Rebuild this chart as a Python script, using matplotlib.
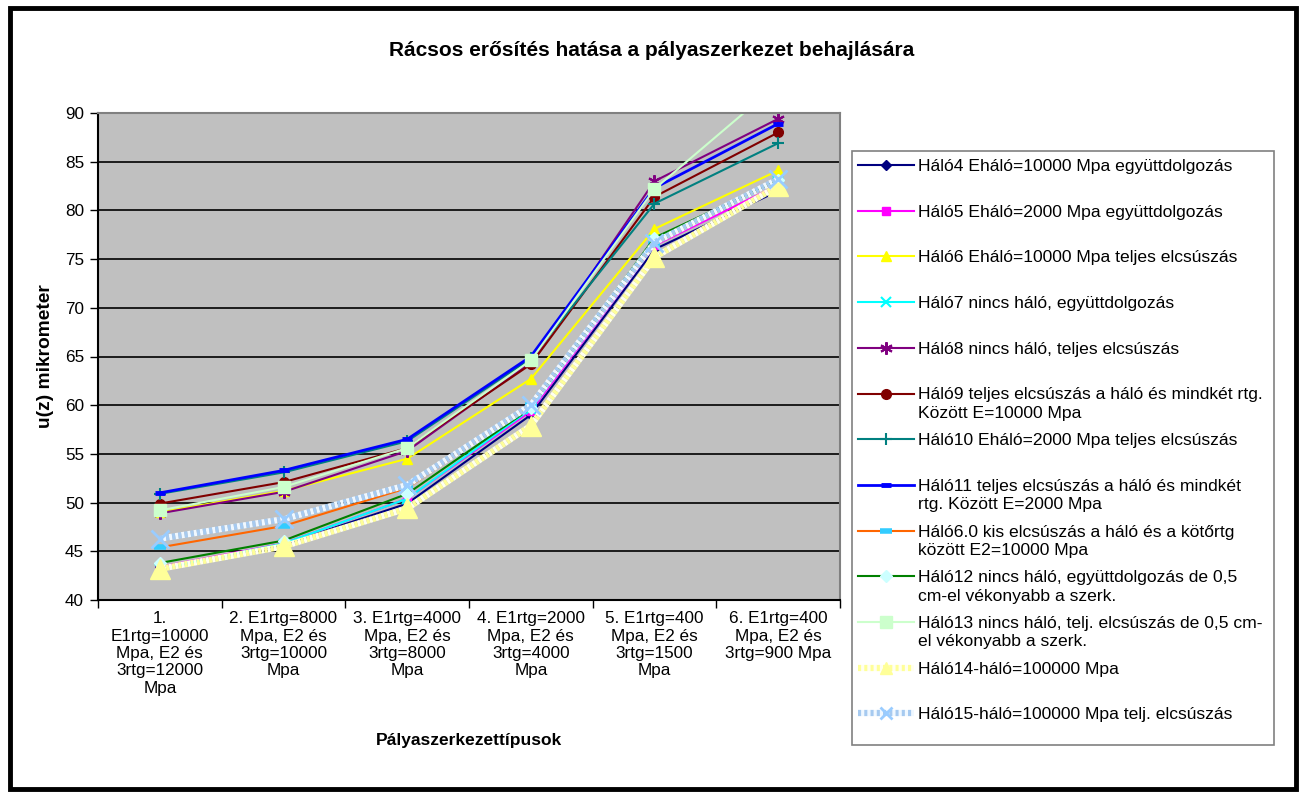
import matplotlib.pyplot as plt
import numpy as np
from matplotlib.lines import Line2D
from matplotlib.patches import Rectangle

plt.rcParams['font.family'] = ['Liberation Sans', 'DejaVu Sans']

# pavement structure types on the x axis
categories = [
    "1.\nE1rtg=10000\nMpa, E2 és\n3rtg=12000\nMpa",
    "2. E1rtg=8000\nMpa, E2 és\n3rtg=10000\nMpa",
    "3. E1rtg=4000\nMpa, E2 és\n3rtg=8000\nMpa",
    "4. E1rtg=2000\nMpa, E2 és\n3rtg=4000\nMpa",
    "5. E1rtg=400\nMpa, E2 és\n3rtg=1500\nMpa",
    "6. E1rtg=400\nMpa, E2 és\n3rtg=900 Mpa",
]

# u(z) deflection values, micrometer
halo4 = [43.4, 45.7, 49.9, 59.0, 76.0, 82.0]
halo5 = [43.4, 45.8, 50.4, 59.4, 76.4, 82.6]
halo6 = [49.0, 51.2, 54.5, 62.7, 78.1, 84.1]
halo7 = [43.2, 45.8, 50.4, 59.6, 77.0, 83.0]
halo8 = [48.9, 51.1, 55.3, 64.4, 83.0, 89.4]
halo9 = [49.9, 52.1, 55.6, 64.2, 81.4, 88.0]
halo10 = [50.9, 53.1, 56.3, 64.8, 80.7, 86.9]
halo11 = [51.0, 53.3, 56.5, 65.0, 82.3, 88.9]
halo60 = [45.4, 47.6, 51.5, 60.0, 76.5, 83.0]
halo12 = [43.8, 46.1, 50.9, 59.7, 77.2, 83.1]
halo13 = [49.2, 51.6, 55.6, 64.6, 82.2, 93.0]
halo14 = [43.2, 45.5, 49.4, 57.9, 75.2, 82.5]
halo15 = [46.3, 48.3, 51.8, 60.0, 76.7, 83.2]

labels = [
    "Háló4 Eháló=10000 Mpa együttdolgozás",
    "Háló5 Eháló=2000 Mpa együttdolgozás",
    "Háló6 Eháló=10000 Mpa teljes elcsúszás",
    "Háló7 nincs háló, együttdolgozás",
    "Háló8 nincs háló, teljes elcsúszás",
    "Háló9 teljes elcsúszás a háló és mindkét rtg.\nKözött E=10000 Mpa",
    "Háló10 Eháló=2000 Mpa teljes elcsúszás",
    "Háló11 teljes elcsúszás a háló és mindkét\nrtg. Között E=2000 Mpa",
    "Háló6.0 kis elcsúszás a háló és a kötőrtg\nközött E2=10000 Mpa",
    "Háló12 nincs háló, együttdolgozás de 0,5\ncm-el vékonyabb a szerk.",
    "Háló13 nincs háló, telj. elcsúszás de 0,5 cm-\nel vékonyabb a szerk.",
    "Háló14-háló=100000 Mpa",
    "Háló15-háló=100000 Mpa telj. elcsúszás",
]
series = [halo4, halo5, halo6, halo7, halo8, halo9, halo10, halo11,
          halo60, halo12, halo13, halo14, halo15]

# line / marker styles per series
styles = [
    dict(color='#000080', lw=1.5, marker='D', ms=5, mfc='#000080', mec='#000080'),
    dict(color='#FF00FF', lw=1.5, marker='s', ms=6, mfc='#FF00FF', mec='#FF00FF'),
    dict(color='#FFFF00', lw=1.5, marker='^', ms=7, mfc='#FFFF00', mec='#FFFF00'),
    dict(color='#00FFFF', lw=1.5, marker='x', ms=7, mew=1.5, mec='#00FFFF'),
    dict(color='#800080', lw=1.5, marker=(6, 2, 0), ms=9, mew=1.5, mec='#800080'),
    dict(color='#800000', lw=1.5, marker='o', ms=7, mfc='#800000', mec='#800000'),
    dict(color='#008080', lw=1.5, marker='+', ms=9, mew=1.5, mec='#008080'),
    dict(color='#0000FF', lw=2.0, marker='_', ms=7, mew=3.5, mec='#0000FF'),
    dict(color='#FF6600', lw=1.5, marker='_', ms=9, mew=4, mec='#33CCFF'),
    dict(color='#008000', lw=1.5, marker='D', ms=6, mfc='#CCFFFF', mec='#CCFFFF'),
    dict(color='#CCFFCC', lw=1.5, marker='s', ms=8, mfc='#CCFFCC', mec='#CCFFCC'),
    dict(color='#FFFF99', lw=4.5, ls=(0, (0.5, 0.5)), gapcolor='#FFFFF0', marker='^',
         ms=14, mfc='#FFFF99', mec='#FFFF99'),
    dict(color='#A6CAF0', lw=4.5, ls=(0, (0.5, 0.5)), gapcolor='#F0F8FF', marker='x',
         ms=13, mew=2, mec='#99CCFF'),
]

fs = 12.3

fig = plt.figure(figsize=(13, 7.94), dpi=100)
ax = fig.add_axes([98 / 1300, 1 - 600 / 794, 742 / 1300, 487 / 794])
ax.set_facecolor('#C0C0C0')

x = np.arange(1, len(categories) + 1)
for vals, st in zip(series, styles):
    ax.plot(x, vals, **st)

ax.set_xlim(0.5, 6.5)
ax.set_ylim(40, 90)
ax.set_yticks(np.arange(40, 91, 5))
ax.yaxis.grid(True, color='black', lw=1.2)
ax.set_axisbelow(True)

ax.set_xticks(np.arange(0.5, 6.6, 1))
ax.set_xticklabels([])
ax.set_xticks(x, minor=True)
ax.set_xticklabels(categories, minor=True, fontsize=fs, linespacing=1.2)
ax.tick_params(axis='x', which='minor', length=0, pad=8)
ax.tick_params(axis='x', which='major', length=6, width=1, color='black')
ax.tick_params(axis='y', length=6, width=1, labelsize=fs, pad=4)

for side in ['top', 'right']:
    ax.spines[side].set_color('#808080')
    ax.spines[side].set_linewidth(1.5)
for side in ['left', 'bottom']:
    ax.spines[side].set_color('black')
    ax.spines[side].set_linewidth(1.5)

ax.set_ylabel('u(z) mikrometer', fontsize=13.8, fontweight='bold', labelpad=8)
fig.text(469 / 1300, 1 - 741 / 794, 'Pályaszerkezettípusok', ha='center', va='center',
         fontsize=12.5, fontweight='bold')
fig.text(652 / 1300, 1 - 50 / 794, 'Rácsos erősítés hatása a pályaszerkezet behajlására',
         ha='center', va='center', fontsize=15, fontweight='bold')

# legend drawn by hand so that each entry gets an equal slot
W, H = 1300, 794
fig.add_artist(Rectangle((852 / W, 1 - 745 / H), (1274 - 852) / W, (745 - 151) / H,
                         transform=fig.transFigure, fill=False, ec='#808080', lw=1.2))
row0, step = 165, 45.7
for i, (lab, st) in enumerate(zip(labels, styles)):
    yy = 1 - (row0 + i * step) / H
    kw = dict(st)
    kw['ms'] = min(kw.get('ms', 6), 9)
    fig.add_artist(Line2D([858 / W, 914 / W], [yy, yy], transform=fig.transFigure,
                          **{k: v for k, v in kw.items() if k != 'marker'}))
    fig.add_artist(Line2D([886 / W], [yy], transform=fig.transFigure, ls='none',
                          **{k: v for k, v in kw.items()
                             if k not in ('lw', 'ls', 'gapcolor', 'color')}))
    fig.text(918 / W, yy + 6 / H, lab, ha='left', va='top', fontsize=12.6,
             linespacing=1.27)

# outer chart frame
fig.add_artist(Rectangle((10 / W, 1 - 789 / H), 1286 / W, 781 / H,
                         transform=fig.transFigure, fill=False, ec='black', lw=3.5))

fig.savefig('out.png', dpi=100)
